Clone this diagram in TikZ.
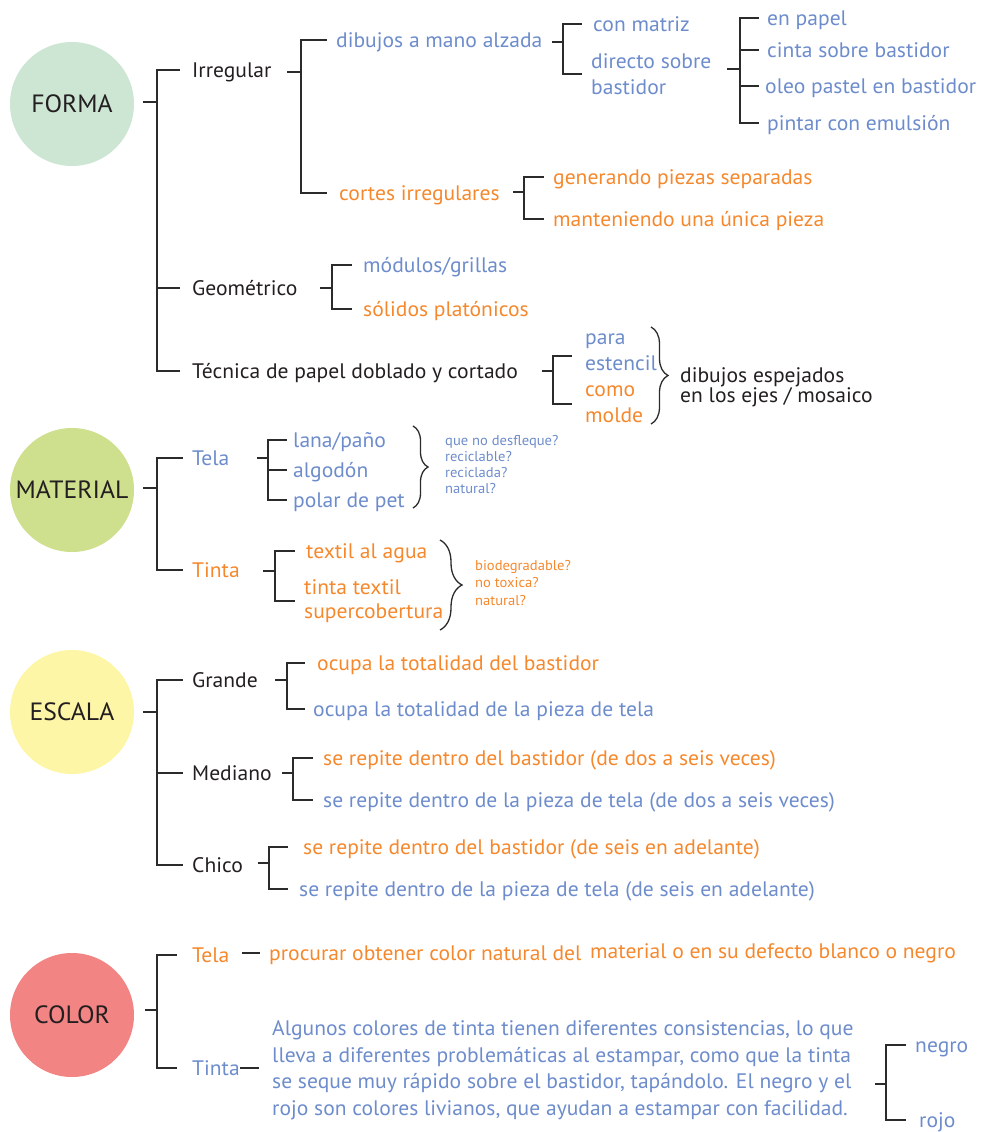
\documentclass[tikz,border=0pt]{standalone}
\usepackage{fontspec}
\setmainfont{PT Sans}[FakeStretch=1.027]
\usetikzlibrary{calc,decorations.pathreplacing}

\definecolor{cblue}{HTML}{6D8CCB}
\definecolor{corange}{HTML}{F5882C}
\definecolor{cblack}{HTML}{231F20}
\definecolor{cline}{HTML}{2B2B2B}
\definecolor{cforma}{HTML}{CDE6D4}
\definecolor{cmaterial}{HTML}{CEDF8D}
\definecolor{cescala}{HTML}{FDF6A7}
\definecolor{ccolor}{HTML}{F28484}

% #1 junction on the spine, #2 stub length, #3 arm length, #4 children
\newcommand{\fork}[4]{%
  \draw[br] (#1) -- ++(-#2,0);
  \foreach \kid in {#4}{\draw[br] (#1) |- ($(#1 |- \kid)+(#3,0)$);}
}

\begin{document}
\begin{tikzpicture}[x=1pt,y=-1pt,
  br/.style={draw=cline, line width=1.5pt, line join=miter},
  hub/.style={circle, inner sep=0pt, minimum size=124pt, text=cblack,
              font=\fontsize{25}{30}\selectfont},
  lbl/.style={anchor=west, inner sep=0pt, text height=14.7pt, text depth=0pt,
              font=\fontsize{21}{26}\selectfont},
  multi/.style={anchor=west, inner sep=0pt, align=left,
              font=\fontsize{21}{26}\selectfont},
  note/.style={anchor=west, inner sep=0pt, align=left,
              font=\fontsize{14.2}{16}\selectfont},
  inblue/.style={text=cblue}, inorange/.style={text=corange}, inblack/.style={text=cblack},
  curly/.style={draw=cline, line width=1.3pt, decorate,
              decoration={brace, amplitude=#1}},
]
\useasboundingbox (0,0) rectangle (981,1132);

% ---------------- FORMA ----------------
\node[hub, fill=cforma] (hforma) at (72,104) {FORMA};
\node[lbl, inblack] (irr) at (192,70) {Irregular};
\node[lbl, inblack] (geo) at (192,288) {Geométrico};
\node[lbl, inblack] (tec) at (192,371) {Técnica de papel doblado y cortado};

\node[lbl, inblue] (dib) at (336,40) {dibujos a mano alzada};
\node[lbl, inorange] (cor) at (339,193) {cortes irregulares};

\node[lbl, inblue] (matriz) at (593,24) {con matriz};
\node[multi, inblue] (directo) at (591,74) {directo sobre\\bastidor};

\node[lbl, inblue] (papel) at (767,18) {en papel};
\node[lbl, inblue] (cinta) at (767,50) {cinta sobre bastidor};
\node[lbl, inblue] (oleo) at (765,86) {oleo pastel en bastidor};
\node[lbl, inblue] (pintar) at (767,123) {pintar con emulsión};

\node[lbl, inorange] (gen) at (553,177) {generando piezas separadas};
\node[lbl, inorange] (mant) at (553,219) {manteniendo una única pieza};

\node[lbl, inblue] (mod) at (363,265) {módulos/grillas};
\node[lbl, inorange] (sol) at (363,309) {sólidos platónicos};

\node[multi, inblue] (para) at (585,352) {para\\estencil};
\node[multi, inorange] (como) at (585,404) {como\\molde};
\node[multi, inblack, font=\fontsize{21}{19}\selectfont] (esp) at (680,387)
  {dibujos espejados\\en los ejes / mosaico};

\coordinate (jforma) at (157,102);
\coordinate (jirr) at (301,72);
\coordinate (jdib) at (563,42);
\coordinate (jdir) at (740,69);
\coordinate (jcor) at (524,192);
\coordinate (jgeo) at (332,288);
\coordinate (jtec) at (553,371);
\coordinate (paraarm) at (585,356);

\fork{jforma}{14}{23}{irr,geo,tec}
\fork{jirr}{14}{26}{dib,cor}
\fork{jdib}{11}{19}{matriz,directo}
\fork{jdir}{13}{19}{papel,cinta,oleo,pintar}
\fork{jcor}{11}{20}{gen,mant}
\fork{jgeo}{12}{20}{mod,sol}
\fork{jtec}{11}{19}{paraarm,como}

\coordinate (b0top) at (651,327);
\coordinate (b0bot) at (651,424);
\draw[curly=17] (b0top) -- (b0bot);

% ---------------- MATERIAL ----------------
\node[hub, fill=cmaterial] (hmaterial) at (72,490) {MATERIAL};
\node[lbl, inblue] (mtela) at (192,458) {Tela};
\node[lbl, inorange] (mtinta) at (192,570) {Tinta};

\node[lbl, inblue] (lana) at (293,440) {lana/paño};
\node[lbl, inblue] (algodon) at (293,470) {algodón};
\node[lbl, inblue] (polar) at (293,500) {polar de pet};
\node[note, inblue] (q1) at (445,465)
  {que no desfleque?\\reciclable?\\reciclada?\\natural?};

\node[lbl, inorange] (textil) at (306,551) {textil al agua};
\node[multi, inorange, font=\fontsize{21}{24}\selectfont] (tintatex) at (304,601)
  {tinta textil\\supercobertura};
\node[note, inorange, font=\fontsize{14.2}{17.5}\selectfont] (bio) at (475,583)
  {biodegradable?\\no toxica?\\natural?};

\coordinate (jmat) at (157,488);
\coordinate (jmtela) at (268,458);
\coordinate (jmtinta) at (275,571);
\fork{jmat}{14}{26}{mtela,mtinta}
\fork{jmtela}{11}{19}{lana,algodon,polar}
\fork{jmtinta}{12}{20}{textil,tintatex}

\coordinate (b1top) at (413,426);
\coordinate (b1bot) at (413,508);
\draw[curly=15] (b1top) -- (b1bot);
\coordinate (b2top) at (440,540);
\coordinate (b2bot) at (440,630);
\draw[curly=22] (b2top) -- (b2bot);

% ---------------- ESCALA ----------------
\node[hub, fill=cescala] (hescala) at (72,712) {ESCALA};
\node[lbl, inblack] (grande) at (192,680) {Grande};
\node[lbl, inblack] (mediano) at (192,773) {Mediano};
\node[lbl, inblack] (chico) at (192,865) {Chico};

\node[lbl, inorange] (og) at (317,663) {ocupa la totalidad del bastidor};
\node[lbl, inblue] (ob) at (313,709) {ocupa la totalidad de la pieza de tela};
\node[lbl, inorange] (mo) at (323,758) {se repite dentro del bastidor (de dos a seis veces)};
\node[lbl, inblue] (mb) at (323,800) {se repite dentro de la pieza de tela (de dos a seis veces)};
\node[lbl, inorange] (co) at (303,847) {se repite dentro del bastidor (de seis en adelante)};
\node[lbl, inblue] (cb) at (299,889) {se repite dentro de la pieza de tela (de seis en adelante)};

\coordinate (jesc) at (157,712);
\coordinate (jgrande) at (287,680);
\coordinate (jmed) at (293,773);
\coordinate (jchico) at (269,863);
\fork{jesc}{14}{26}{grande,mediano,chico}
\fork{jgrande}{12}{18}{og,ob}
\fork{jmed}{11}{20}{mo,mb}
\fork{jchico}{11}{19}{co,cb}

% ---------------- COLOR ----------------
\node[hub, fill=ccolor] (hcolor) at (72,1015) {COLOR};
\node[lbl, inorange] (ctela) at (192,955) {Tela};
\node[lbl, inblue] (ctinta) at (192,1068) {Tinta};

\node[lbl, inorange] (cproc) at (269,953) {procurar obtener color natural del};
\node[lbl, inorange] (cmat) at (590,951) {material o en su defecto blanco o negro};
\node[multi, inblue, font=\fontsize{21}{26.5}\selectfont] (alg) at (272,1070)
  {Algunos colores de tinta tienen diferentes consistencias, lo que\\
   lleva a diferentes problemáticas al estampar, como que la tinta\\
   se seque muy rápido sobre el bastidor, tapándolo. El negro y el\\
   rojo son colores livianos, que ayudan a estampar con facilidad.};
\node[lbl, inblue] (negro) at (915,1045) {negro};
\node[lbl, inblue] (rojo) at (919,1120) {rojo};

\coordinate (jcol) at (157,1010);
\coordinate (jneg) at (886,1084);
\fork{jcol}{12}{20}{ctela,ctinta}
\fork{jneg}{11}{20}{negro,rojo}
\draw[br] ([xshift=-9pt]cproc.west) -- ++(-18,0);
\draw[br] (ctinta.east) -- ++(19,0);

\end{tikzpicture}
\end{document}
